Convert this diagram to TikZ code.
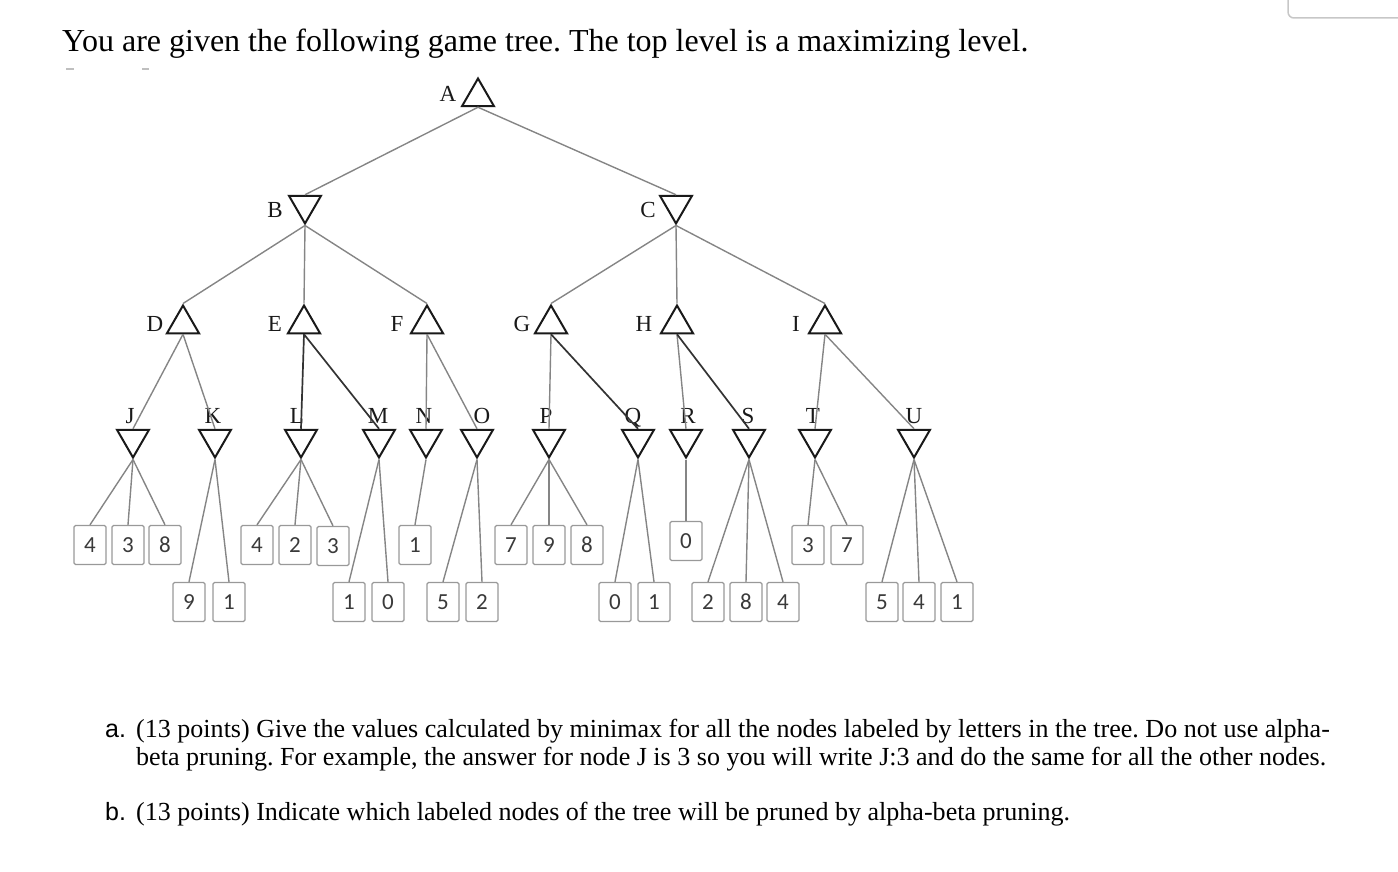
\documentclass[tikz,border=0pt]{standalone}
\usepackage{fontspec}
\setmainfont{Liberation Serif}
\newfontfamily\boxfont{Carlito}
\newfontfamily\itemfont{Liberation Sans}
\usetikzlibrary{shapes.geometric}
\definecolor{edgegray}{HTML}{858585}
\definecolor{boxgray}{HTML}{999999}
\definecolor{digitgray}{HTML}{3A3A3A}
\frenchspacing

\tikzset{
	maxnode/.style={regular polygon, regular polygon sides=3, draw=black!90, line width=2pt, minimum size=37pt, inner sep=0pt},
	minnode/.style={maxnode, rotate=180},
	leaf/.style={draw=boxgray, fill=white, line width=1.3pt, rounded corners=1.5pt, minimum width=32pt, minimum height=39pt, inner sep=0pt, text=digitgray, font=\boxfont\fontsize{23}{23}\selectfont},
	branch/.style={edgegray, line width=1.4pt},
	kept/.style={black!80, line width=1.7pt},
	lbl/.style={anchor=base, inner sep=0pt, text=black!90, font=\fontsize{23}{23}\selectfont},
	txt/.style={anchor=base west, inner sep=0pt, font=\fontsize{26.05}{26.05}\selectfont},
}

\begin{document}
\begin{tikzpicture}[x=1pt,y=-1pt]
	\useasboundingbox (0,0) rectangle (1398,872);
	\draw[black!22, line width=1.5pt, rounded corners=6pt] (1288,-20) -- (1288,18) -- (1420,18);
	\draw[black!25, line width=1.2pt] (66,69) -- (74,69) (142,69) -- (149,69);

	\node[anchor=base west, inner sep=0pt, font=\fontsize{32}{32}\selectfont] (title) at (62,52) {You are given the following game tree. The top level is a maximizing level.};

	\node[maxnode] (A) at (478,97) {};
	\node[minnode] (B) at (305,205) {};
	\node[minnode] (C) at (676,205) {};
	\foreach \n/\x in {D/183,E/304,F/427,G/551,H/677,I/825}
		\node[maxnode] (\n) at (\x,324) {};
	\foreach \n/\x in {J/133,K/215,L/301,M/379,N/426,O/477,P/549,Q/638,R/686,S/749,T/815,U/914}
		\node[minnode] (\n) at (\x,439) {};

	\node[lbl] (lA) at (448,102) {A};
	\node[lbl] (lB) at (275,217) {B};
	\node[lbl] (lC) at (648,218) {C};
	\foreach \n/\x in {D/155,E/275,F/397,G/522,H/644,I/796}
		\node[lbl] (l\n) at (\x,331) {\n};
	\foreach \n/\x in {J/130,K/213,L/297,M/378,N/424,O/482,P/546,Q/633,R/688,S/748,T/813,U/914}
		\node[lbl] (l\n) at (\x,423) {\n};

	\foreach \n/\x/\y/\v in {J1/90/545/4,J2/128/545/3,J3/165/545/8,K1/189/602/9,K2/229/602/1,
			L1/257/545/4,L2/295/545/2,L3/333/546/3,M1/349/602/1,M2/388/602/0,N1/415/545/1,
			O1/443/602/5,O2/482/602/2,P1/511/545/7,P2/549/545/9,P3/587/545/8,Q1/615/602/0,
			Q2/654/602/1,R1/686/541/0,S1/708/602/2,S2/746/602/8,S3/783/602/4,T1/808/545/3,
			T2/847/545/7,U1/882/602/5,U2/919/602/4,U3/957/602/1}
		\node[leaf] (\n) at (\x,\y) {\v};

	\draw[branch] (A.side 2) -- (B.side 2);
	\draw[branch] (A.side 2) -- (C.side 2);
	\foreach \p/\c in {B/D,B/E,B/F,C/G,C/H,C/I}
		\draw[branch] (\p.corner 1) -- (\c.corner 1);
	\foreach \p/\c in {D/J,D/K,F/N,F/O,G/P,H/R,I/T,I/U}
		\draw[branch] (\p.side 2) -- (\c.side 2);
	\foreach \p/\c in {E/L,E/M,G/Q,H/S}
		\draw[kept] (\p.side 2) -- (\c.side 2);
	\foreach \p/\c in {J/J1,J/J2,J/J3,K/K1,K/K2,L/L1,L/L2,L/L3,M/M1,M/M2,N/N1,O/O1,O/O2,
			P/P1,P/P2,P/P3,Q/Q1,Q/Q2,R/R1,S/S1,S/S2,S/S3,T/T1,T/T2,U/U1,U/U2,U/U3}
		\draw[branch] (\p.corner 1) -- (\c.north);

	\node[txt, font=\itemfont\fontsize{25}{25}\selectfont] (itemA) at (105,737) {a.};
	\node[txt] (partA1) at (136,737) {(13 points) Give the values calculated by minimax for all the nodes labeled by letters in the tree. Do not use alpha-};
	\node[txt] (partA2) at (136,765) {beta pruning. For example, the answer for node J is 3 so you will write J:3 and do the same for all the other nodes.};
	\node[txt, font=\itemfont\fontsize{25}{25}\selectfont] (itemB) at (105,820) {b.};
	\node[txt] (partB) at (136,820) {(13 points) Indicate which labeled nodes of the tree will be pruned by alpha-beta pruning.};
\end{tikzpicture}
\end{document}
